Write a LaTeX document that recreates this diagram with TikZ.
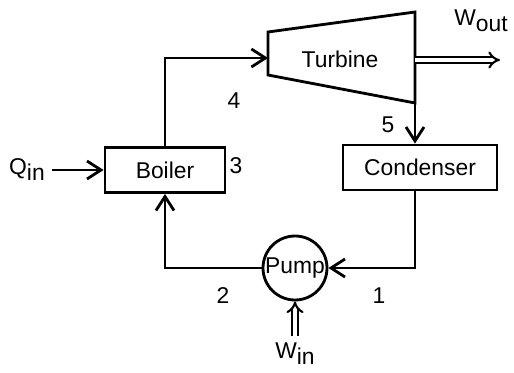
\documentclass[tikz,border=0pt]{standalone}
\usepackage{fontspec}
\setmainfont{Liberation Sans}
\usepackage{tikz}
\usetikzlibrary{arrows.meta, positioning, calc}

\begin{document}
\begin{tikzpicture}[
  font=\fontsize{13}{15}\selectfont,
  line width=1.6pt,
  flow/.style={-{Straight Barb[length=2.8mm,width=3.6mm]}},
  work/.style={double, double distance=2pt, line width=1.2pt,
               -{Implies[length=3.2mm, width=5mm]}},
  unit/.style={rectangle, draw, line width=1.6pt, minimum height=0.9cm,
               inner sep=2pt, align=center},
  pumpc/.style={circle, draw, line width=1.6pt, minimum size=1.28cm,
                inner sep=0pt},
  num/.style={inner sep=1pt},
]
\useasboundingbox (0,0) rectangle (10.28,7.44);

%% --- turbine (trapeze) ---
\coordinate (ttl) at (5.36,6.80);
\coordinate (tbl) at (5.36,5.94);
\coordinate (ttr) at (8.30,7.20);
\coordinate (tbr) at (8.30,5.38);
\draw (ttl) -- (ttr) -- (tbr) -- (tbl) -- cycle;
\node (turb) at (6.8,6.26) {Turbine};
\coordinate (tin) at (5.36,6.28);
\coordinate (tout) at (8.30,6.24);

%% --- composants ---
\node[unit, minimum width=2.4cm] (boiler) at (3.3,4.04) {Boiler};
\node[unit, minimum width=3.08cm] (cond) at (8.4,4.09) {Condenser};
\node[pumpc] (pump) at (5.9,2.08) {Pump};

%% --- bornes libres ---
\coordinate (qsrc) at (1.04,4.04);
\coordinate (wsnk) at (10.0,6.24);
\coordinate (wsrc) at (5.9,0.72);

%% --- circuit ---
\draw[flow] (boiler.north) |- (tin);
\draw[flow] (tbr) -- (tbr |- cond.north);
\draw[flow] (cond.south -| tbr) |- (pump.east);
\draw[flow] (pump.west) -| (boiler.south);
\draw[flow] (qsrc) -- (boiler.west);
\draw[work] (tout) -- (wsnk);
\draw[work] (wsrc) -- (pump.south);

%% --- etiquettes ---
\node[num] (n1) at (7.58,1.52) {1};
\node[num] (n2) at (4.46,1.52) {2};
\node[num] (n3) at (4.72,4.12) {3};
\node[num] (n4) at (4.68,5.42) {4};
\node[num] (n5) at (7.76,4.94) {5};
\node[anchor=east] (qin) at (qsrc) {Q\raisebox{-0.5ex}{in}};
\node (wout) at (9.62,7.02) {W\raisebox{-0.5ex}{out}};
\node (win) at (5.9,0.36) {W\raisebox{-0.5ex}{in}};
\end{tikzpicture}
\end{document}
